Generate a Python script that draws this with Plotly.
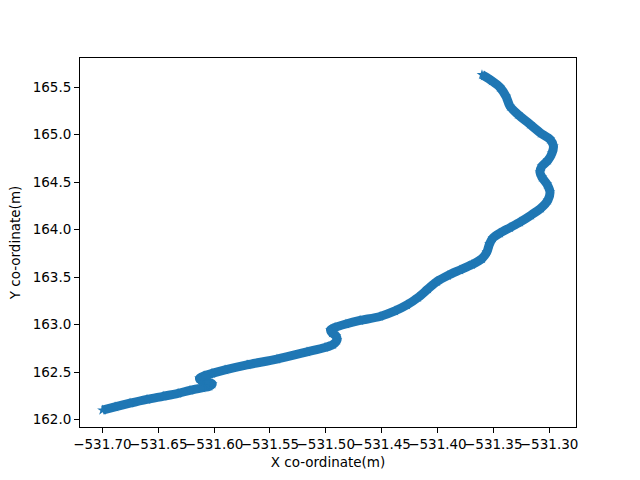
import plotly.graph_objects as go

x_coord = [
    -531.700, -531.6887, -531.6753, -531.6601, -531.6457, -531.6323, -531.6216, -531.6108,
    -531.6044, -531.6017, -531.6062, -531.6117, -531.6131, -531.6090, -531.6019, -531.5902,
    -531.5705, -531.5437, -531.5168, -531.5007, -531.4935, -531.4899, -531.4908, -531.4944,
    -531.4958, -531.4917, -531.4819, -531.4693, -531.4514, -531.4380, -531.4273, -531.4174,
    -531.4085, -531.4004, -531.3906, -531.3798, -531.3691, -531.3601, -531.3557, -531.3534,
    -531.3503, -531.3440, -531.3350, -531.3261, -531.3162, -531.3073, -531.3010, -531.2992,
    -531.3019, -531.3064, -531.3082, -531.3064, -531.3010, -531.2974, -531.2961, -531.2992,
    -531.3073, -531.3171, -531.3279, -531.3350, -531.3386, -531.3440, -531.3512, -531.3583,
    -531.3601,
]
y_coord = [
    162.100, 162.135, 162.174, 162.214, 162.246, 162.277, 162.309, 162.335,
    162.351, 162.377, 162.398, 162.414, 162.435, 162.461, 162.487, 162.524,
    162.577, 162.637, 162.713, 162.760, 162.792, 162.839, 162.881, 162.913,
    162.944, 162.971, 163.007, 163.044, 163.086, 163.144, 163.207, 163.286,
    163.375, 163.454, 163.517, 163.575, 163.632, 163.695, 163.764, 163.848,
    163.911, 163.963, 164.021, 164.079, 164.152, 164.226, 164.310, 164.394,
    164.478, 164.551, 164.604, 164.667, 164.730, 164.804, 164.877, 164.951,
    165.014, 165.108, 165.213, 165.297, 165.402, 165.497, 165.565, 165.618,
    165.630,
]

x_title = "X co-ordinate(m)"
y_title = "Y co-ordinate(m)"

color = "#1f77b4"
font = dict(family="DejaVu Sans", size=13.5, color="black")

fig = go.Figure()
fig.add_trace(go.Scatter(
    x=x_coord, y=y_coord, mode="lines+markers",
    line=dict(color=color, width=9, shape="spline", smoothing=0.8),
    marker=dict(symbol="star", size=8, color=color, line=dict(width=0)),
    showlegend=False, hoverinfo="skip",
))

axis_common = dict(
    showgrid=False, zeroline=False, showline=True, linecolor="black", linewidth=1,
    mirror=True, ticks="outside", ticklen=5, tickwidth=1, tickcolor="black",
    tickfont=font, title_font=font,
)
fig.update_xaxes(range=[-531.7201, -531.2759], dtick=0.05, tick0=-531.70, tickangle=0,
                 tickformat=".2f", title_text=x_title, title_standoff=6, **axis_common)
fig.update_yaxes(range=[161.923, 165.806], dtick=0.5, tick0=162.0,
                 tickformat=".1f", title_text=y_title, title_standoff=8, **axis_common)

fig.update_layout(
    width=640, height=480,
    margin=dict(l=80, r=64, t=58, b=53, autoexpand=False),
    paper_bgcolor="white", plot_bgcolor="white",
    font=font,
)

fig.write_html("out.html", config={"displayModeBar": False},
               post_script="document.body.style.margin='0';")
